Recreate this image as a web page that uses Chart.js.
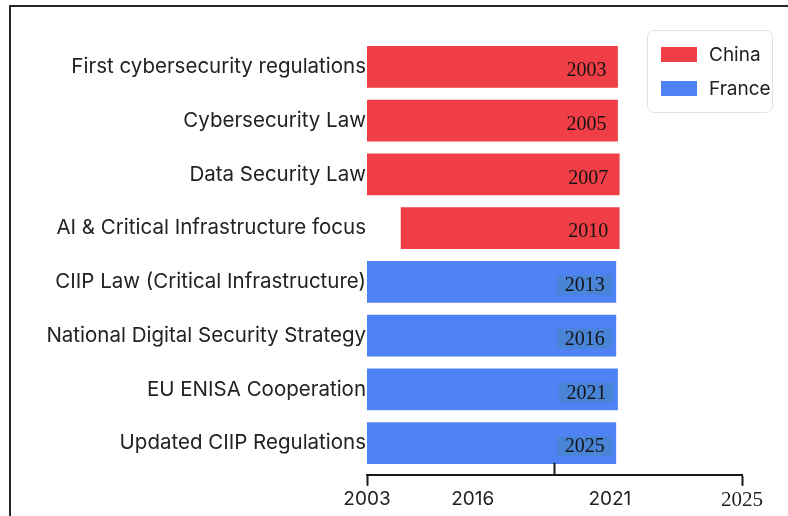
<!DOCTYPE html>
<html>
<head>
<meta charset="utf-8">
<script src="https://cdn.jsdelivr.net/npm/chart.js@4.4.0/dist/chart.umd.min.js"></script>
<style>
  body { margin: 0; background: #fff; }
  #wrap { position: relative; width: 788px; height: 516px; overflow: hidden; }
  #frame { position: absolute; left: 9px; top: 5px; right: -4px; bottom: -4px;
           border-top: 2px solid #262626; border-left: 2px solid #262626; pointer-events: none; }
  #legend { position: absolute; left: 647px; top: 30px; width: 124px; height: 81px;
            border: 1px solid #e3e3e3; border-radius: 7px; background: #fff;
            font-family: Inter, sans-serif; font-size: 19px; color: #222; }
  #legend .item { position: absolute; left: 13px; height: 20px; line-height: 20px; white-space: nowrap; }
  #legend .box { display: inline-block; width: 36px; height: 15px; vertical-align: -1px; margin-right: 12px; }
</style>
</head>
<body>
<div id="wrap">
  <canvas id="timeline" width="788" height="516"></canvas>
  <div id="frame"></div>
  <div id="legend"></div>
</div>
<script>
// milestones, top to bottom
const events = [
  'First cybersecurity regulations',
  'Cybersecurity Law',
  'Data Security Law',
  'AI & Critical Infrastructure focus',
  'CIIP Law (Critical Infrastructure)',
  'National Digital Security Strategy',
  'EU ENISA Cooperation',
  'Updated CIIP Regulations'
];
const eventYears = [2003, 2005, 2007, 2010, 2013, 2016, 2021, 2025];

// bar spans (start, end) per country
const chinaStart = [2003, 2003, 2003, 2005];
const chinaEnd = [2017.7, 2017.7, 2017.8, 2017.8];
const franceStart = [2003, 2003, 2003, 2003];
const franceEnd = [2017.6, 2017.6, 2017.7, 2017.6];

// bottom axis
const axisTicks = [2003, 2009.2, 2017.25, 2025];
const axisLabels = ['2003', '2016', '2021', '2025'];
const markerYear = 2014;

const chinaData = chinaStart.map((s, i) => ({ y: i, x: [s, chinaEnd[i]] }));
const franceData = franceStart.map((s, i) => ({ y: i + 4, x: [s, franceEnd[i]] }));

// year text at the right end of each bar
const barYears = {
  id: 'barYears',
  afterDatasetsDraw(chart) {
    const ctx = chart.ctx;
    ctx.save();
    ctx.font = '20px "Liberation Serif", "Times New Roman", serif';
    ctx.textAlign = 'right';
    ctx.textBaseline = 'middle';
    chart.data.datasets.forEach((ds, di) => {
      chart.getDatasetMeta(di).data.forEach((bar, i) => {
        const year = eventYears[ds.data[i].y];
        if (ds.label === 'France') {
          ctx.fillStyle = '#4a84d6';
          ctx.fillRect(bar.x - 59, bar.y - 7, 55, 20);
        }
        ctx.fillStyle = '#141414';
        ctx.fillText(String(year), bar.x - 11, bar.y + 4);
      });
    });
    ctx.restore();
  }
};

// small upward tick on the bottom axis
const axisMarker = {
  id: 'axisMarker',
  afterDraw(chart) {
    const x = chart.scales.x.getPixelForValue(markerYear);
    const b = chart.chartArea.bottom;
    const ctx = chart.ctx;
    ctx.save();
    ctx.strokeStyle = '#1a1a1a';
    ctx.lineWidth = 2;
    ctx.beginPath();
    ctx.moveTo(x, b - 12);
    ctx.lineTo(x, b);
    ctx.stroke();
    ctx.restore();
  }
};

const chart = new Chart(document.getElementById('timeline').getContext('2d'), {
  type: 'bar',
  data: {
    datasets: [
      { label: 'China', data: chinaData, backgroundColor: '#ef3e46', barThickness: 41, grouped: false },
      { label: 'France', data: franceData, backgroundColor: '#4f83f5', barThickness: 41, grouped: false }
    ]
  },
  options: {
    indexAxis: 'y',
    responsive: false,
    animation: false,
    layout: { padding: { left: 0, right: 46, top: 40, bottom: 1 } },
    scales: {
      y: {
        type: 'linear',
        reverse: true,
        offset: false,
        min: -0.5,
        max: 7.59,
        z: 1,
        afterBuildTicks: s => { s.ticks = events.map((e, i) => ({ value: i })); },
        afterFit: s => { s.width = 367; },
        border: { display: false },
        grid: { display: false },
        ticks: {
          callback: v => events[v],
          font: { family: 'Inter', size: 20.5 },
          color: '#222',
          padding: -7
        }
      },
      x: {
        type: 'linear',
        min: 2003,
        max: 2025,
        afterBuildTicks: s => { s.ticks = axisTicks.map(v => ({ value: v })); },
        border: { display: true, color: '#1a1a1a', width: 2 },
        grid: {
          drawOnChartArea: false,
          tickLength: 11,
          tickWidth: 2,
          tickColor: c => (c.index === 0 || c.index === axisTicks.length - 1) ? '#1a1a1a' : 'rgba(0,0,0,0)'
        },
        ticks: {
          autoSkip: false,
          maxRotation: 0,
          padding: 2,
          color: '#222',
          callback: (v, i) => axisLabels[i],
          font: c => c.index === axisTicks.length - 1
            ? { family: 'Liberation Serif', size: 21 }
            : { family: 'Inter', size: 19 }
        }
      }
    },
    plugins: {
      legend: { display: false },
      tooltip: { enabled: false }
    }
  },
  plugins: [barYears, axisMarker]
});

// legend box
const legendEl = document.getElementById('legend');
chart.data.datasets.forEach((ds, i) => {
  const item = document.createElement('div');
  item.className = 'item';
  item.style.top = (14 + i * 34) + 'px';
  item.innerHTML = '<span class="box" style="background:' + ds.backgroundColor + '"></span>' + ds.label;
  legendEl.appendChild(item);
});
</script>
</body>
</html>
